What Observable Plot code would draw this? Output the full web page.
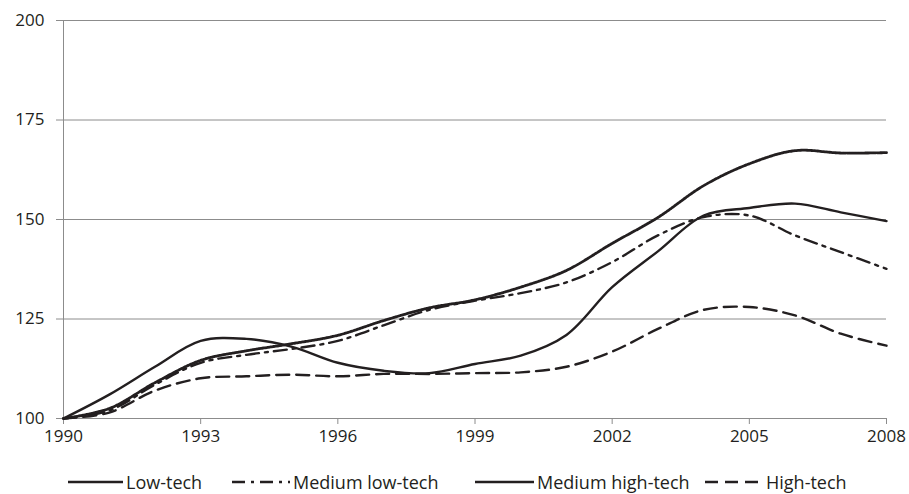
<!DOCTYPE html>
<html>
<head>
<meta charset="utf-8">
<script src="https://cdn.jsdelivr.net/npm/d3@7"></script>
<script src="https://cdn.jsdelivr.net/npm/@observablehq/plot@0.6"></script>
<style>
  html, body { margin: 0; padding: 0; background: #fff; }
  body { width: 909px; height: 494px; overflow: hidden; font-family: "Open Sans", sans-serif; color: #231f20; }
  #legend { position: relative; height: 32px; font-size: 18px; line-height: 22px; }
  .item { position: absolute; top: 9px; display: flex; align-items: center; white-space: nowrap; }
  .item svg { margin-right: 3px; }
</style>
</head>
<body>
<div id="chart"></div>
<div id="legend"></div>
<script>
const years = [1990,1991,1992,1993,1994,1995,1996,1997,1998,1999,2000,2001,2002,2003,2004,2005,2006,2007,2008];
const seriesNames = ["Low-tech", "Medium low-tech", "Medium high-tech", "High-tech"];
const lowTech        = [100,106,113,119.5,120,118,114,112,111.4,113.7,115.8,121,133,142,151,152.9,154,151.8,149.6];
const mediumLowTech  = [100,102,108.5,114,116,117.5,119.5,123.4,127.3,129.6,131.5,134.2,139.3,146,150.6,151,146,141.8,137.6];
const mediumHighTech = [100,102.5,109,114.6,117,118.8,120.9,124.6,127.8,129.8,133,137.2,144,150.5,158.5,164,167.3,166.7,166.8];
const highTech       = [100,101.5,107,110.1,110.6,111,110.6,111.2,111.2,111.4,111.6,113,116.8,122.5,127.3,128,125.9,121.3,118.3];
const yTicks = [100,125,150,175,200];
const xTicks = [1990,1993,1996,1999,2002,2005,2008];

const styles = {
  "Low-tech":         {dash: null,       width: 2.4},
  "Medium low-tech":  {dash: "13,6,3,6", width: 2.4},
  "Medium high-tech": {dash: "2,1",      width: 2.8},
  "High-tech":        {dash: "13,7",     width: 2.4}
};
const allValues = [lowTech, mediumLowTech, mediumHighTech, highTech];
const rows = [];
seriesNames.forEach((s, i) => years.forEach((y, j) => rows.push({series: s, year: y, value: allValues[i][j]})));

const lineMarks = seriesNames.map(s => Plot.line(rows.filter(d => d.series === s), {
  x: "year", y: "value", curve: "catmull-rom",
  stroke: "#231f20", strokeWidth: styles[s].width,
  strokeDasharray: styles[s].dash || undefined
}));

const chart = Plot.plot({
  width: 909, height: 462,
  marginLeft: 63, marginRight: 23, marginTop: 20, marginBottom: 44,
  style: {fontFamily: "'Open Sans', sans-serif", fontSize: "17px", color: "#231f20", background: "#fff"},
  x: {domain: [1990, 2008], ticks: xTicks, tickFormat: d => String(d), label: null},
  y: {domain: [100, 200], ticks: yTicks, label: null},
  marks: [
    Plot.gridY(yTicks.filter(t => t > 100), {stroke: "#8c8c8c", strokeOpacity: 1, strokeWidth: 1}),
    Plot.ruleY([100], {stroke: "#8c8c8c", strokeWidth: 1}),
    Plot.ruleX([1990], {stroke: "#8c8c8c", strokeWidth: 1}),
    Plot.axisX({ticks: xTicks, tickFormat: d => String(d), tickSize: 6, tickPadding: 5, stroke: "#8c8c8c", fontSize: 17, label: null}),
    Plot.axisY({ticks: yTicks, tickSize: 7, tickPadding: 12, stroke: "#8c8c8c", fontSize: 17, label: null}),
    ...lineMarks
  ]
});
document.getElementById("chart").appendChild(chart);

const legendPos = [{x: 68, w: 55}, {x: 232, w: 58}, {x: 475, w: 59}, {x: 705, w: 58}];
const legend = document.getElementById("legend");
seriesNames.forEach((s, i) => {
  const item = document.createElement("div");
  item.className = "item";
  item.style.left = legendPos[i].x + "px";
  const w = legendPos[i].w;
  const sw = s === "Medium high-tech" ? null : styles[s].dash;
  item.innerHTML = `<svg width="${w}" height="10"><line x1="0" y1="5" x2="${w}" y2="5" stroke="#231f20" stroke-width="2.4" ${sw ? `stroke-dasharray="${sw}"` : ""}/></svg><span>${s}</span>`;
  legend.appendChild(item);
});
</script>
</body>
</html>
